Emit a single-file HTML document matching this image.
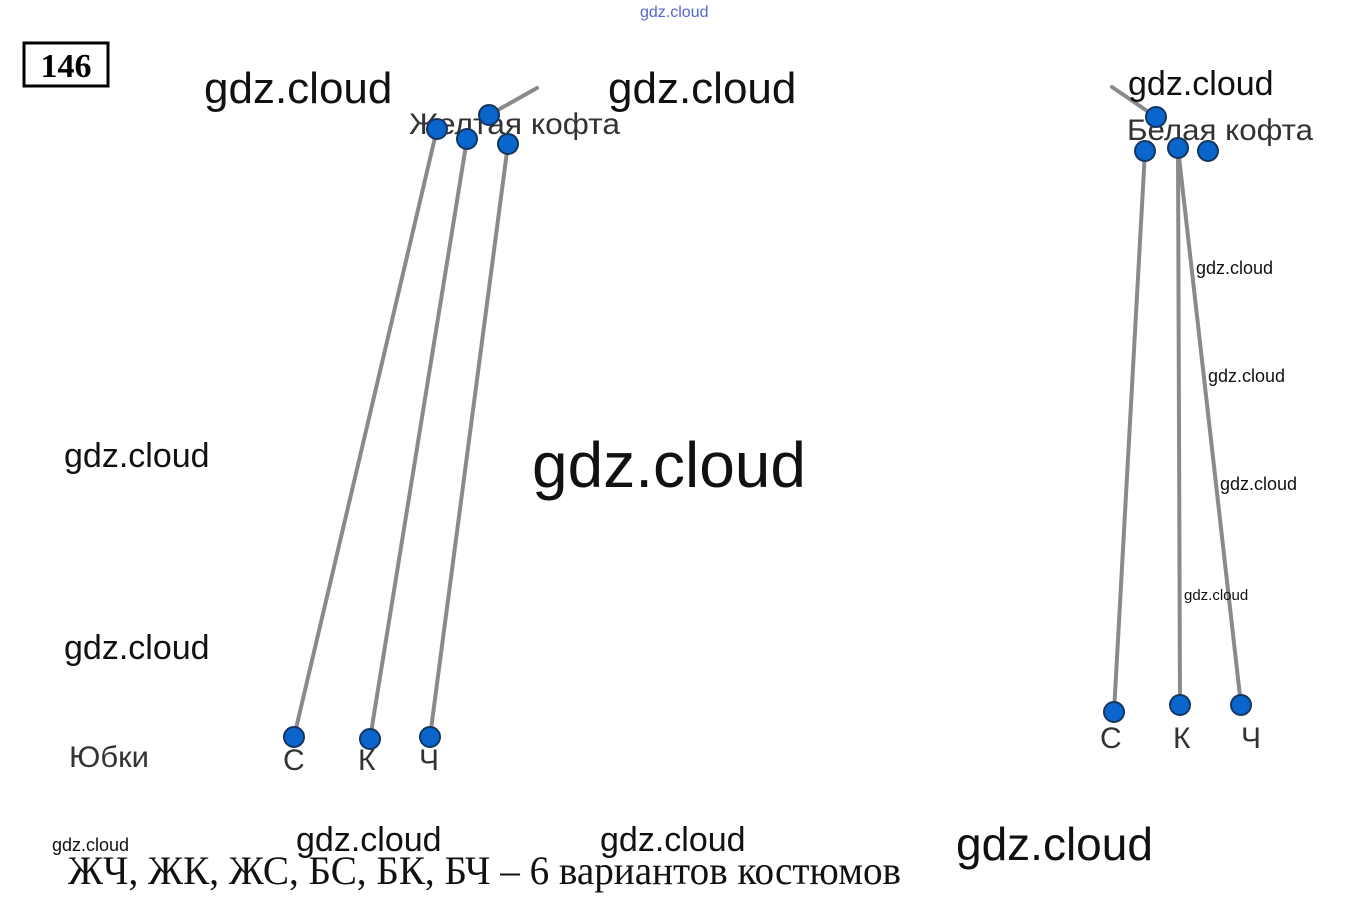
<!DOCTYPE html>
<html><head><meta charset="utf-8"><style>
html,body{margin:0;padding:0;background:#fff;}
</style></head><body>
<svg width="1357" height="914" xmlns="http://www.w3.org/2000/svg" style="display:block">
<rect width="1357" height="914" fill="#fff"/>
<!-- 146 box -->
<rect x="24" y="43" width="84" height="43" fill="none" stroke="#000" stroke-width="3"/>
<text x="66" y="77" font-family="Liberation Serif, serif" font-weight="bold" font-size="34" text-anchor="middle">146</text>
<g stroke="#8a8a8a" stroke-width="4" stroke-linecap="round" fill="none">
<line x1="489" y1="115" x2="537" y2="88"/>
<line x1="437" y1="129" x2="294" y2="737"/>
<line x1="467" y1="139" x2="370" y2="739"/>
<line x1="508" y1="144" x2="430" y2="737"/>
<line x1="1156" y1="117" x2="1112" y2="87"/>
<line x1="1145" y1="151" x2="1114" y2="712"/>
<line x1="1178" y1="148" x2="1180" y2="705"/>
<line x1="1178" y1="148" x2="1241" y2="705"/>
</g>
<g font-family="Liberation Sans, DejaVu Sans, sans-serif" fill="#333" font-size="30">
<text x="409" y="134" textLength="211" lengthAdjust="spacingAndGlyphs">Желтая кофта</text>
<text x="1127" y="140" textLength="186" lengthAdjust="spacingAndGlyphs">Белая кофта</text>
<text x="69" y="767" textLength="80" lengthAdjust="spacingAndGlyphs">Юбки</text>
<text x="283" y="770">С</text>
<text x="358" y="770">К</text>
<text x="419" y="770">Ч</text>
<text x="1100" y="748">С</text>
<text x="1173" y="748">К</text>
<text x="1241" y="748">Ч</text>
</g>
<g fill="#0a66cc" stroke="#13355e" stroke-width="2">
<circle cx="489" cy="115" r="10"/>
<circle cx="437" cy="129" r="10"/>
<circle cx="467" cy="139" r="10"/>
<circle cx="508" cy="144" r="10"/>
<circle cx="294" cy="737" r="10"/>
<circle cx="370" cy="739" r="10"/>
<circle cx="430" cy="737" r="10"/>
<circle cx="1156" cy="117" r="10"/>
<circle cx="1145" cy="151" r="10"/>
<circle cx="1178" cy="148" r="10"/>
<circle cx="1208" cy="151" r="10"/>
<circle cx="1114" cy="712" r="10"/>
<circle cx="1180" cy="705" r="10"/>
<circle cx="1241" cy="705" r="10"/>
</g>
<g font-family="Liberation Sans, DejaVu Sans, sans-serif" fill="#111">
<text x="204" y="103" font-size="44">gdz.cloud</text>
<text x="608" y="103" font-size="44">gdz.cloud</text>
<text x="1128" y="95" font-size="34">gdz.cloud</text>
<text x="64" y="467" font-size="34">gdz.cloud</text>
<text x="532" y="487" font-size="64">gdz.cloud</text>
<text x="64" y="659" font-size="34">gdz.cloud</text>
<text x="1196" y="274" font-size="18">gdz.cloud</text>
<text x="1208" y="382" font-size="18">gdz.cloud</text>
<text x="1220" y="490" font-size="18">gdz.cloud</text>
<text x="1184" y="600" font-size="15">gdz.cloud</text>
<text x="52" y="851" font-size="18">gdz.cloud</text>
<text x="296" y="851" font-size="34">gdz.cloud</text>
<text x="600" y="851" font-size="34">gdz.cloud</text>
<text x="956" y="860" font-size="46">gdz.cloud</text>
<text x="640" y="17" font-size="16" fill="#5566cc">gdz.cloud</text>
</g>
<text x="68" y="884" font-family="Liberation Serif, serif" font-size="40" fill="#111" textLength="833" lengthAdjust="spacingAndGlyphs">ЖЧ, ЖК, ЖС, БС, БК, БЧ – 6 вариантов костюмов</text>
</svg>
</body></html>
